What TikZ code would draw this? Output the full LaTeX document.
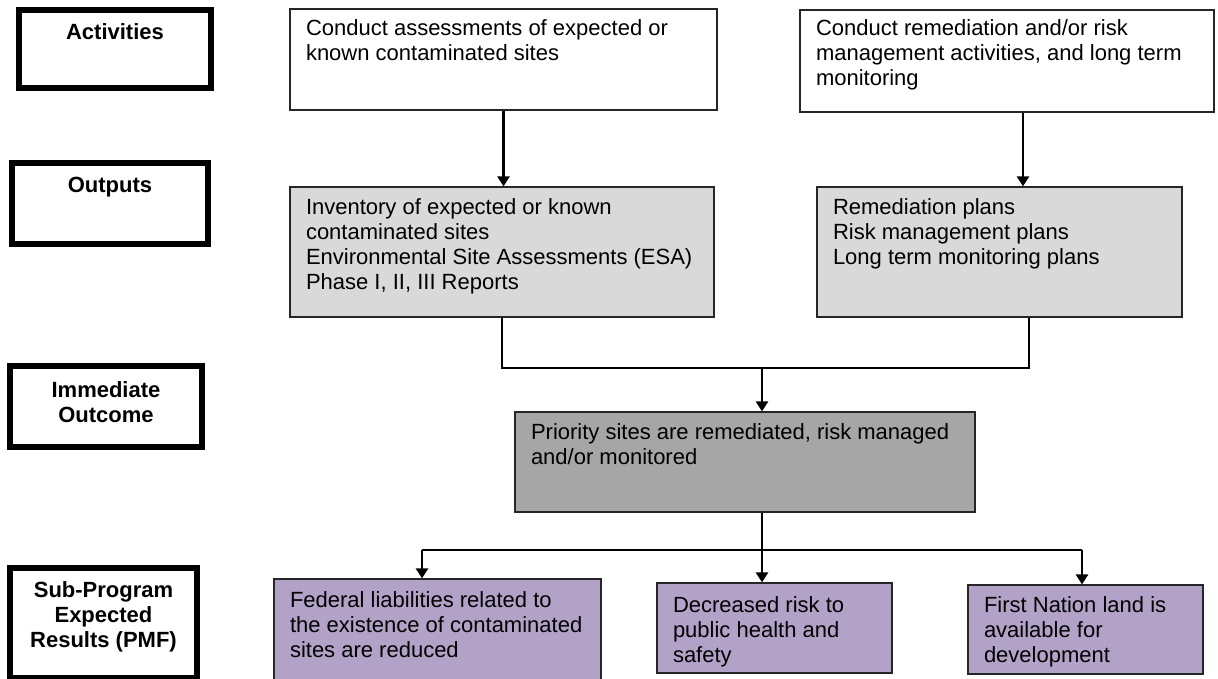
\documentclass[tikz,border=0pt]{standalone}
\usepackage{fontspec}
\setmainfont{Liberation Sans}
\usepackage{tikz}
\usetikzlibrary{arrows.meta, calc}
\definecolor{outgray}{RGB}{217, 217, 217}
\definecolor{priogray}{RGB}{166, 166, 166}
\definecolor{respurple}{RGB}{179, 162, 199}
\definecolor{edgegray}{RGB}{38, 38, 38}
% text set at the top of a box: height, width, top gap, lines
\newcommand{\lefttext}[4]{\hspace*{16pt}\parbox[c][#1][t]{#2}{\vspace*{#3}\raggedright #4}}
\newcommand{\midtext}[4]{\parbox[c][#1][t]{#2}{\vspace*{#3}\centering #4}}
\tikzset{
    labelnode/.style = {draw=black, line width=6pt, fill=white, rectangle, inner sep=0em,
      font=\fontsize{22}{25}\selectfont\bfseries},
    boxnode/.style = {draw=edgegray, line width=1.2pt, rectangle, inner sep=0em,
      font=\fontsize{22}{25}\selectfont},
    activitynode/.style = {boxnode, fill=white},
    outputnode/.style = {boxnode, fill=outgray},
    outcomenode/.style = {boxnode, fill=priogray},
    resultnode/.style = {boxnode, fill=respurple},
    connect/.style = {black, line width=1.2pt},
    arrowconnect/.style = {black, line width=2.6pt, -{Triangle[width=12pt, length=10pt]}}
}

\begin{document}
\begin{tikzpicture}[x=1pt, y=-1pt]
\useasboundingbox (0,0) rectangle (1218,679);

% left column of headings
\node [labelnode, minimum width=192pt, minimum height=78pt] (actlabel) at (115,49)
    {\midtext{78pt}{192pt}{14pt}{Activities}};
\node [labelnode, minimum width=196pt, minimum height=81pt] (outlabel) at (110,203.5)
    {\midtext{81pt}{196pt}{14pt}{Outputs}};
\node [labelnode, minimum width=192pt, minimum height=81pt] (immlabel) at (106,406.5)
    {\midtext{81pt}{192pt}{16pt}{Immediate\\Outcome}};
\node [labelnode, minimum width=187pt, minimum height=110pt] (sublabel) at (103.5,623)
    {\midtext{110pt}{187pt}{14pt}{Sub-Program\\Expected\\Results (PMF)}};

% activities and outputs
\node [activitynode, minimum width=427pt, minimum height=101pt] (act1) at (503.5,59.5)
    {\lefttext{101pt}{411pt}{11pt}{Conduct assessments of expected or\\known contaminated sites}};
\node [activitynode, minimum width=414pt, minimum height=102pt] (act2) at (1007,61)
    {\lefttext{102pt}{398pt}{10pt}{Conduct remediation and/or risk\\management activities, and long term\\monitoring}};
\node [outputnode, minimum width=424pt, minimum height=130pt] (out1) at (502,252)
    {\lefttext{130pt}{408pt}{12pt}{Inventory of expected or known\\contaminated sites\\Environmental Site Assessments (ESA)\\Phase I, II, III Reports}};
\node [outputnode, minimum width=365pt, minimum height=130pt] (out2) at (999.5,252)
    {\lefttext{130pt}{349pt}{12pt}{Remediation plans\\Risk management plans\\Long term monitoring plans}};

% immediate outcome
\node [outcomenode, minimum width=460pt, minimum height=100pt] (prio) at (745,462)
    {\lefttext{100pt}{444pt}{12pt}{Priority sites are remediated, risk managed\\and/or monitored}};

% expected results
\node [resultnode, minimum width=327pt, minimum height=111pt] (res1) at (437.5,634.5)
    {\lefttext{111pt}{311pt}{13pt}{Federal liabilities related to\\the existence of contaminated\\sites are reduced}};
\node [resultnode, minimum width=235pt, minimum height=90pt] (res2) at (774.5,628)
    {\lefttext{90pt}{219pt}{14pt}{Decreased risk to\\public health and\\safety}};
\node [resultnode, minimum width=235pt, minimum height=89pt] (res3) at (1085.5,629.5)
    {\lefttext{89pt}{219pt}{12pt}{First Nation land is\\available for\\development}};

% connectors
\draw [arrowconnect] (act1.south) -- (act1.south |- out1.north);
\draw [arrowconnect] ([xshift=16pt]act2.south) -- ([xshift=16pt]act2.south |- out2.north);

\coordinate (join1) at (762,368);
\draw [connect] (out1.south) |- (join1);
\draw [connect] ([xshift=29.5pt]out2.south) |- (join1);
\draw [arrowconnect] (join1) -- (join1 |- prio.north);

\coordinate (join2) at (762,550);
\coordinate (left2) at (422,550);
\coordinate (right2) at (1082,550);
\draw [connect] (join2 |- prio.south) -- (join2);
\draw [connect] (left2) -- (right2);
\draw [arrowconnect] (left2) -- (left2 |- res1.north);
\draw [arrowconnect] (join2) -- (join2 |- res2.north);
\draw [arrowconnect] (right2) -- (right2 |- res3.north);
\end{tikzpicture}
\end{document}
